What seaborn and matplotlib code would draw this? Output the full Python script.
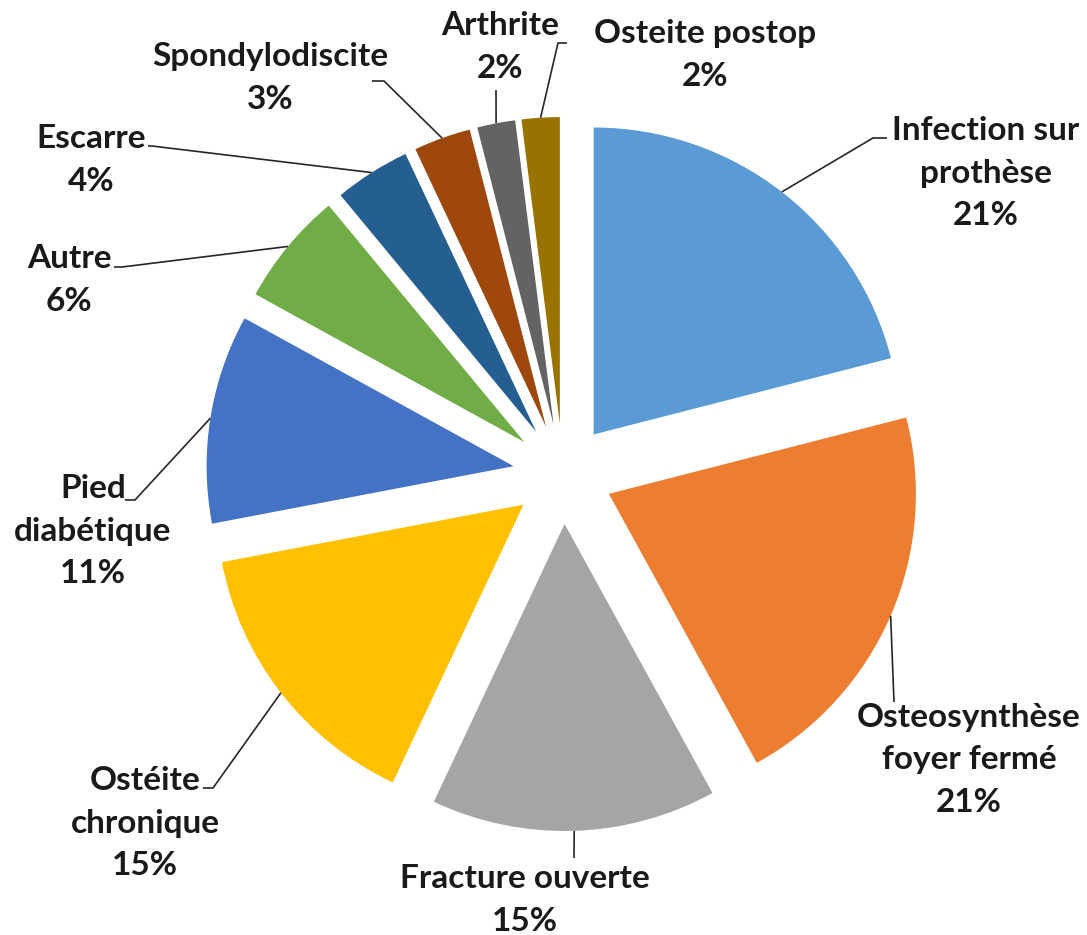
import numpy as np
import matplotlib
matplotlib.use("Agg")
import matplotlib.pyplot as plt
import seaborn as sns

# ---- data ----
categories = ["Infection sur\nprothèse", "Osteosynthèse\nfoyer fermé", "Fracture ouverte",
              "Ostéite\nchronique", "Pied\ndiabétique", "Autre", "Escarre",
              "Spondylodiscite", "Arthrite", "Osteite postop"]
percents = [21, 21, 15, 15, 11, 6, 4, 3, 2, 2]

# ---- style ----
colors = ["#5B9BD5", "#ED7D31", "#A5A5A5", "#FFC000", "#4472C4",
          "#70AD47", "#255E91", "#9E480E", "#636363", "#997300"]

sns.set_theme(style="white")
plt.rcParams["font.family"] = ["Lato", "DejaVu Sans"]

W, H = 1087, 935
fig = plt.figure(figsize=(W / 100, H / 100), dpi=100)
ax = fig.add_axes([0, 0, 1, 1])

cx, cy = 563, H - 474
R = 307
explode_px = 50

wedges, _ = ax.pie(percents, colors=colors, startangle=90, counterclock=False,
                   explode=[explode_px] * len(percents), radius=R, center=(cx, cy),
                   wedgeprops=dict(linewidth=0), frame=True)
ax.set_xlim(0, W)
ax.set_ylim(0, H)
ax.set_aspect("auto")
ax.axis("off")

# label layout (image pixel coords, y down)
label_pos = [(986, 173), (969, 760), (525, 900), (145, 823), (93, 531),
             (69, 280), (91, 160), (270, 78), (500, 47), (705, 55)]
leader_pts = [[(887, 138), (873, 138)],
              [(894, 702)],
              [(574, 858)],
              [(203, 788), (213, 788)],
              [(125, 500), (135, 500)],
              [(114, 267), (122, 267)],
              [(148, 146), (152, 146)],
              [(372, 81), (384, 81)],
              [(496, 90)],
              [(567, 43), (558, 43)]]

for w, lab, pct, (lx, ly), pts in zip(wedges, categories, percents, label_pos, leader_pts):
    mid = np.deg2rad((w.theta1 + w.theta2) / 2)
    wx, wy = w.center
    arc_pt = (wx + R * np.cos(mid), wy + R * np.sin(mid))
    xs = [p[0] for p in pts] + [arc_pt[0]]
    ys = [H - p[1] for p in pts] + [arc_pt[1]]
    ax.plot(xs, ys, color="#262626", lw=1.2, solid_capstyle="butt")
    ax.text(lx, H - ly, f"{lab}\n{pct}%", ha="center", va="center",
            fontsize=24, fontweight="bold", color="#1a1a1a", linespacing=1.55)

fig.savefig("out.png", dpi=100)
